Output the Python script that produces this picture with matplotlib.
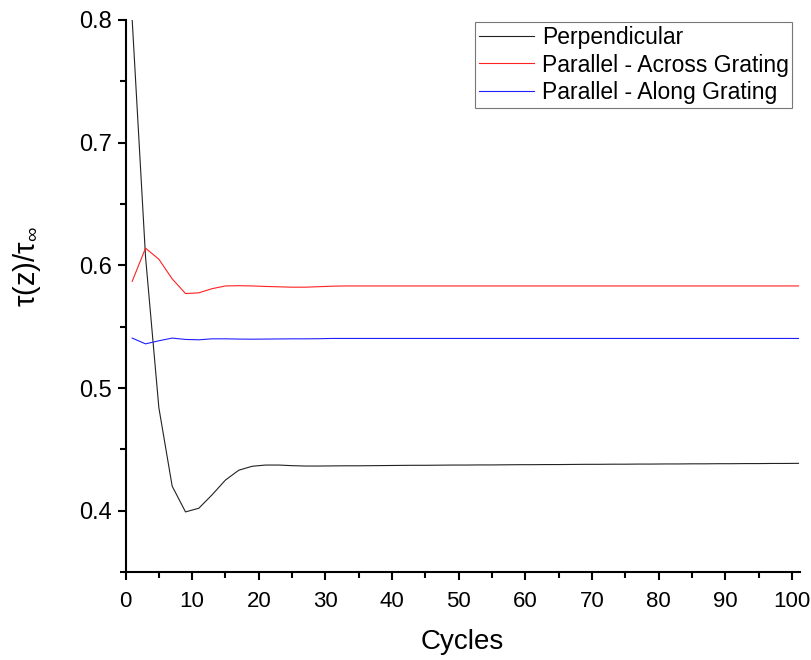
import matplotlib
matplotlib.use("Agg")
import matplotlib.pyplot as plt
from matplotlib.ticker import MultipleLocator

plt.rcParams['font.family'] = ['Liberation Sans', 'DejaVu Sans']
plt.rcParams['mathtext.fontset'] = 'custom'
plt.rcParams['mathtext.rm'] = 'Liberation Sans'
plt.rcParams['mathtext.it'] = 'Liberation Sans'

cycles = list(range(1, 102, 2))

perpendicular = [
    0.800, 0.607, 0.484, 0.420, 0.399, 0.402, 0.413, 0.425, 0.433, 0.4362,
    0.4372, 0.4372, 0.4367, 0.4364, 0.4364, 0.4365, 0.4366, 0.4366, 0.4367, 0.4368,
    0.4369, 0.4370, 0.4370, 0.4371, 0.4372, 0.4372, 0.4373, 0.4373, 0.4374, 0.4375,
    0.4375, 0.4376, 0.4376, 0.4377, 0.4378, 0.4378, 0.4379, 0.4379, 0.4380, 0.4380,
    0.4381, 0.4381, 0.4382, 0.4382, 0.4383, 0.4383, 0.4384, 0.4384, 0.4385, 0.4385,
    0.4386,
]

parallel_across = [
    0.587, 0.614, 0.605, 0.589, 0.577, 0.5776, 0.581, 0.5832, 0.5834, 0.5832,
    0.5828, 0.5825, 0.5822, 0.5822, 0.5826, 0.5830, 0.5832, 0.5832, 0.5832, 0.5832,
    0.5832, 0.5832, 0.5832, 0.5832, 0.5832, 0.5832, 0.5832, 0.5832, 0.5832, 0.5832,
    0.5832, 0.5832, 0.5832, 0.5832, 0.5832, 0.5832, 0.5832, 0.5832, 0.5832, 0.5832,
    0.5832, 0.5832, 0.5832, 0.5832, 0.5832, 0.5832, 0.5832, 0.5832, 0.5832, 0.5832,
    0.5832,
]

parallel_along = [
    0.5407, 0.5360, 0.5385, 0.5407, 0.5396, 0.5393, 0.5401, 0.5401, 0.5399, 0.5398,
    0.5399, 0.5400, 0.5401, 0.5401, 0.5402, 0.5404, 0.5404, 0.5404, 0.5404, 0.5404,
    0.5404, 0.5404, 0.5404, 0.5404, 0.5404, 0.5404, 0.5404, 0.5404, 0.5404, 0.5404,
    0.5404, 0.5404, 0.5404, 0.5404, 0.5404, 0.5404, 0.5404, 0.5404, 0.5404, 0.5404,
    0.5404, 0.5404, 0.5404, 0.5404, 0.5404, 0.5404, 0.5404, 0.5404, 0.5404, 0.5404,
    0.5404,
]

series_labels = ["Perpendicular", "Parallel - Across Grating", "Parallel - Along Grating"]
series_colors = ["#222222", "#ff2020", "#2020ff"]

fig = plt.figure(figsize=(8.12, 6.6), dpi=100)
ax = fig.add_axes([0.1546, 0.1333, 0.8304, 0.8364])

for ys, lab, col in zip([perpendicular, parallel_across, parallel_along],
                        series_labels, series_colors):
    ax.plot(cycles, ys, color=col, lw=0.8, label=lab)

ax.set_xlim(0, 101.2)
ax.set_ylim(0.35, 0.8)
ax.xaxis.set_major_locator(MultipleLocator(10))
ax.xaxis.set_minor_locator(MultipleLocator(5))
ax.yaxis.set_major_locator(MultipleLocator(0.1))
ax.yaxis.set_minor_locator(MultipleLocator(0.05))

for side in ("top", "right"):
    ax.spines[side].set_visible(False)
for side in ("left", "bottom"):
    ax.spines[side].set_linewidth(1.5)

ax.tick_params(which="major", direction="out", length=6, width=1.5)
ax.tick_params(which="minor", direction="out", length=4, width=1.5)
ax.tick_params(axis="x", labelsize=16, pad=8)
ax.tick_params(axis="y", labelsize=17, pad=4)

ax.set_xlabel("Cycles", fontsize=20, labelpad=12)
ax.set_ylabel(r"$\mathregular{\tau(z)/\tau_\infty}$", fontsize=21)
ax.yaxis.set_label_coords(-0.122, 0.553)

leg = ax.legend(loc="upper right", bbox_to_anchor=(0.9885, 0.9955), fontsize=16.5,
                frameon=True, fancybox=False, edgecolor="#555555",
                handlelength=2.4, handletextpad=0.35, borderpad=0.15,
                labelspacing=0.2, borderaxespad=0.0)
leg.get_frame().set_linewidth(0.8)

fig.savefig("out.png", dpi=100)
